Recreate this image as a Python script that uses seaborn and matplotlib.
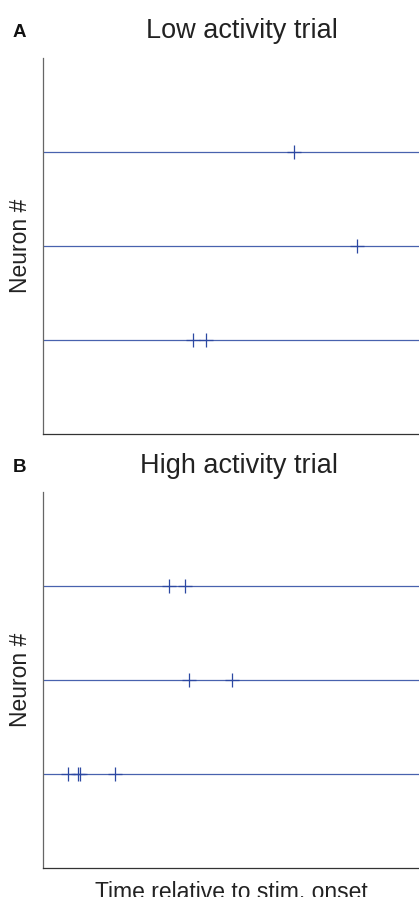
import matplotlib
matplotlib.use("Agg")
import matplotlib.pyplot as plt
import seaborn as sns
import pandas as pd

# neuron rows, bottom to top
neurons = [1, 2, 3]

# spike times (arbitrary units, 0-100) per neuron
low_spikes = {1: [39.9, 43.4], 2: [83.5], 3: [66.8]}
high_spikes = {1: [6.7, 9.4, 9.8, 19.2], 2: [38.8, 50.2], 3: [33.4, 37.7]}

titles = ["Low activity trial", "High activity trial"]
panel_labels = ["A", "B"]

sns.set_style("white")
plt.rcParams["font.family"] = ["Liberation Sans", "DejaVu Sans"]

line_color = "#4862ae"
spike_color = "#2c48a2"

fig = plt.figure(figsize=(4.19, 8.97), dpi=100)
ax_a = fig.add_axes([0.1026, 0.5162, 0.8974, 0.4192])
ax_b = fig.add_axes([0.1026, 0.0323, 0.8974, 0.4192])


def raster(ax, spikes):
    rows = []
    for n, times in spikes.items():
        for t in times:
            rows.append({"time": t, "neuron": n})
    df = pd.DataFrame(rows)
    ax.hlines(neurons, 0, 100, color=line_color, lw=0.9, zorder=1)
    sns.scatterplot(data=df, x="time", y="neuron", marker="+", s=95,
                    color=spike_color, linewidth=0.9, ax=ax, zorder=2)
    ax.set_xlim(0, 100)
    ax.set_ylim(0, 4)
    ax.set_xticks([])
    ax.set_yticks([])
    ax.set_xlabel("")
    ax.set_ylabel("Neuron #", fontsize=16.5, labelpad=8, color="#222222")
    sns.despine(ax=ax)
    ax.spines["left"].set_color("#666666")
    ax.spines["bottom"].set_color("#333333")
    ax.spines["left"].set_linewidth(0.9)
    ax.spines["bottom"].set_linewidth(0.9)


raster(ax_a, low_spikes)
raster(ax_b, high_spikes)
ax_b.set_xlabel("Time relative to stim. onset", fontsize=16.5, labelpad=9,
                color="#222222")

title_y = [0.9576, 0.473]
label_y = [0.9591, 0.4741]
for i in range(2):
    fig.text(0.8067, title_y[i], titles[i], ha="right", va="baseline",
             fontsize=19.5, color="#222222")
    fig.text(0.031, label_y[i], panel_labels[i], ha="left", va="baseline",
             fontsize=13.5, fontweight="bold", color="#111111")

fig.savefig("out.png", dpi=100)
